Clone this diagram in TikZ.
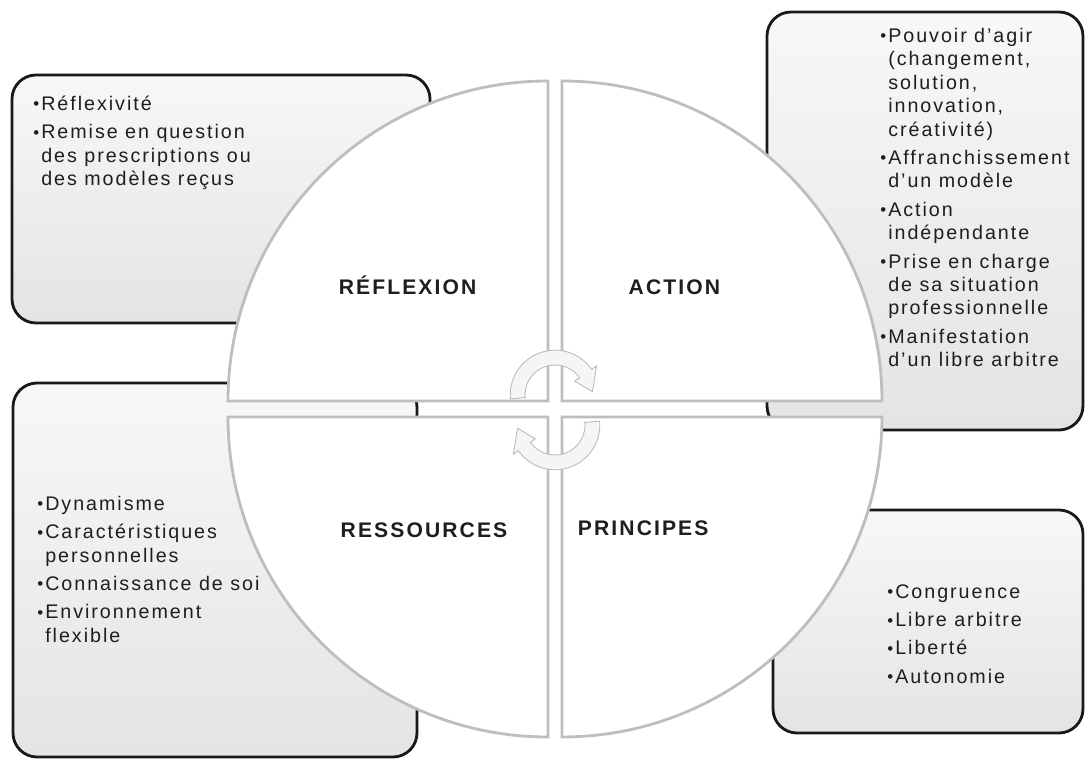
\documentclass[tikz,border=0pt]{standalone}
\usepackage{fontspec}
\setmainfont{Liberation Sans}[LetterSpace=10]
\usepackage{tikz}
\usetikzlibrary{positioning}
\definecolor{boxgrey}{HTML}{E4E4E4}
\definecolor{ringgrey}{HTML}{BEBEBE}
\definecolor{txtdark}{HTML}{1E1E1E}
\newcommand{\puce}{\makebox[0.2cm][l]{\raisebox{0.05ex}{\fontsize{12}{12}\selectfont\textbullet}}}

\begin{document}
\begin{tikzpicture}[x=1cm, y=1cm,
  cadre/.style={top color=gray!6, bottom color=boxgrey, draw=black!90, line width=2pt, rounded corners=0.6cm},
  quart/.style={fill=white, draw=ringgrey, line width=2pt},
  puces/.style={anchor=north west, inner sep=0pt, font=\fontsize{14}{16.7}\selectfont, text=txtdark},
  titre/.style={font=\fontsize{15}{17}\selectfont\bfseries, text=txtdark},
  fleche/.style={fill=gray!8, draw=gray!55, line width=0.6pt}]
\useasboundingbox (0,0) rectangle (27.125,19.025);
% boxes behind the circle
\draw[cadre] (0.30,10.95) rectangle (10.75,17.15);
\draw[cadre] (19.175,8.275) rectangle (27.075,18.725);
\draw[cadre] (0.325,0.10) rectangle (10.425,9.45);
\draw[cadre] (19.325,0.70) rectangle (27.075,6.275);
\node[puces] (txtreflexion) at (0.825,16.685) {%
  \begin{tabular}{@{}l@{}l@{}}
  \puce & Réflexivité\\[0.12cm]
  \puce & Remise en question\\
        & des prescriptions ou\\
        & des modèles reçus
  \end{tabular}};
\node[puces] (txtaction) at (22.0,18.385) {%
  \begin{tabular}{@{}l@{}l@{}}
  \puce & Pouvoir d'agir\\
        & (changement,\\
        & solution,\\
        & innovation,\\
        & créativité)\\[0.12cm]
  \puce & Affranchissement\\
        & d'un modèle\\[0.12cm]
  \puce & Action\\
        & indépendante\\[0.12cm]
  \puce & Prise en charge\\
        & de sa situation\\
        & professionnelle\\[0.12cm]
  \puce & Manifestation\\
        & d'un libre arbitre
  \end{tabular}};
\node[puces] (txtressources) at (0.925,6.685) {%
  \begin{tabular}{@{}l@{}l@{}}
  \puce & Dynamisme\\[0.12cm]
  \puce & Caractéristiques\\
        & personnelles\\[0.12cm]
  \puce & Connaissance de soi\\[0.12cm]
  \puce & Environnement\\
        & flexible
  \end{tabular}};
\node[puces] (txtprincipes) at (22.175,4.485) {%
  \begin{tabular}{@{}l@{}l@{}}
  \puce & Congruence\\[0.12cm]
  \puce & Libre arbitre\\[0.12cm]
  \puce & Liberté\\[0.12cm]
  \puce & Autonomie
  \end{tabular}};
% the four quarters
\coordinate (tl) at (13.70,9.00);
\coordinate (tr) at (14.05,9.00);
\coordinate (bl) at (13.70,8.60);
\coordinate (br) at (14.05,8.60);
\draw[quart] (tl) -- ++(0,8) arc[start angle=90, end angle=180, radius=8] -- cycle;
\draw[quart] (tr) -- ++(8,0) arc[start angle=0, end angle=90, radius=8] -- cycle;
\draw[quart] (bl) -- ++(-8,0) arc[start angle=180, end angle=270, radius=8] -- cycle;
\draw[quart] (br) -- ++(0,-8) arc[start angle=270, end angle=360, radius=8] -- cycle;
\node[titre] (reflexion) at (10.19,11.90) {RÉFLEXION};
\node[titre] (action) at (16.86,11.85) {ACTION};
\node[titre] (ressources) at (10.60,5.78) {RESSOURCES};
\node[titre] (principes) at (16.08,5.82) {PRINCIPES};
% cycle arrows in the middle
\begin{scope}[shift={(13.875,9.15)}]
\filldraw[fleche] (185:0.75) -- (185:1.12) arc[start angle=185, end angle=35, radius=1.12]
  -- (35:1.27) -- (5:0.94) -- (35:0.60) -- (35:0.75)
  arc[start angle=35, end angle=185, radius=0.75] -- cycle;
\end{scope}
\begin{scope}[shift={(13.875,8.40)}]
\filldraw[fleche] (5:0.75) -- (5:1.12) arc[start angle=5, end angle=-145, radius=1.12]
  -- (-145:1.27) -- (-175:0.94) -- (-145:0.60) -- (-145:0.75)
  arc[start angle=-145, end angle=5, radius=0.75] -- cycle;
\end{scope}
\end{tikzpicture}
\end{document}
